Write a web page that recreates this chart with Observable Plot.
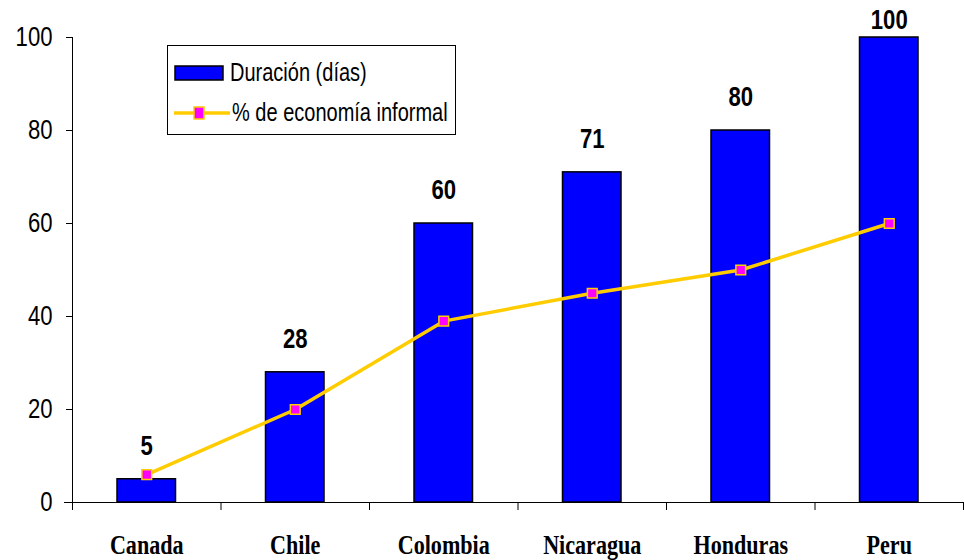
<!DOCTYPE html>
<html>
<head>
<meta charset="utf-8">
<script src="https://cdn.jsdelivr.net/npm/d3@7"></script>
<script src="https://cdn.jsdelivr.net/npm/@observablehq/plot@0.6"></script>
<style>
  html, body { margin: 0; padding: 0; background: #fff; }
  #wrap { position: relative; width: 964px; height: 560px; }
  #legend { position: absolute; left: 167px; top: 45px; width: 287px; height: 88px;
    border: 1px solid #000; background: #fff; font-family: "Liberation Sans", Arial, sans-serif;
    font-size: 25px; color: #000; }
  #legend .row { position: absolute; left: 6px; display: flex; align-items: center; }
  #legend .row span { margin-left: 6px; white-space: nowrap; display: inline-block;
    transform: scaleX(0.8); transform-origin: left center; }
</style>
</head>
<body>
<div id="wrap"></div>
<script>
const countries = ["Canada", "Chile", "Colombia", "Nicaragua", "Honduras", "Peru"];
const duration = [5, 28, 60, 71, 80, 100];
const informal = [6, 20, 39, 45, 50, 60];
const yTicks = [0, 20, 40, 60, 80, 100];
const seriesNames = ["Duración (días)", "% de economía informal"];

const data = countries.map((c, i) => ({country: c, i, duration: duration[i], informal: informal[i]}));
const bounds = d3.range(countries.length + 1);
const mids = countries.map((c, i) => i + 0.5);

const blue = "#0000FF", yellow = "#FFCC00", magenta = "#FF00FF";
const sans = "'Liberation Sans', Arial, sans-serif";

const chart = Plot.plot({
  width: 964,
  height: 560,
  marginLeft: 72,
  marginRight: 1,
  marginTop: 37,
  marginBottom: 58,
  style: {background: "#fff", color: "#000", fontFamily: sans},
  x: {domain: [0, countries.length], label: null},
  y: {domain: [0, 100], label: null},
  marks: [
    Plot.rectY(data, {x1: "i", x2: d => d.i + 1, y: "duration", insetLeft: 45, insetRight: 45,
      fill: blue, stroke: "#000", strokeWidth: 1.5}),
    Plot.ruleY([0], {stroke: "#000", strokeWidth: 1, insetLeft: -8}),
    Plot.ruleX([0], {stroke: "#000", strokeWidth: 1}),
    Plot.axisY({ticks: yTicks, tickSize: 6, tickPadding: 14, fontSize: 28, label: null,
      fontFamily: sans, tickFormat: d => String(d)}),
    Plot.axisX({ticks: bounds, tickSize: 8, tickFormat: () => "", label: null}),
    Plot.axisX({ticks: mids, tickSize: 0, tickPadding: 32, label: null,
      tickFormat: d => countries[Math.floor(d)], fontSize: 28, fontWeight: "bold",
      fontFamily: "'Liberation Serif', 'Times New Roman', serif"}),
    Plot.line(data, {x: d => d.i + 0.5, y: "informal", stroke: yellow, strokeWidth: 3.5}),
    Plot.dot(data, {x: d => d.i + 0.5, y: "informal", symbol: "square", r: 5.5,
      fill: magenta, stroke: yellow, strokeWidth: 1.5}),
    Plot.text(data.filter(d => d.duration < 100), {x: d => d.i + 0.5, y: "duration", text: d => String(d.duration),
      dy: -33, fontSize: 28, fontWeight: "bold", fontFamily: sans}),
    Plot.text(data.filter(d => d.duration >= 100), {x: d => d.i + 0.5, y: "duration", text: d => String(d.duration),
      dy: -17, fontSize: 28, fontWeight: "bold", fontFamily: sans})
  ]
});

// The reference's lettering is horizontally condensed: squeeze every text element around its anchor.
d3.select(chart).selectAll("text").each(function() {
  const t = this.getAttribute("transform") || "";
  this.setAttribute("transform", (t + " scale(0.79,1)").trim());
});

const wrap = document.getElementById("wrap");
wrap.appendChild(chart);

const legend = document.createElement("div");
legend.id = "legend";
legend.innerHTML = `
  <div class="row" style="top:12px">
    <svg width="50" height="16"><rect x="1" y="1" width="48" height="14" fill="${blue}" stroke="#000" stroke-width="1.5"/></svg>
    <span>${seriesNames[0]}</span>
  </div>
  <div class="row" style="top:52px">
    <svg width="56" height="16"><line x1="0" y1="8" x2="56" y2="8" stroke="${yellow}" stroke-width="3.5"/>
      <rect x="20" y="2" width="10" height="12" fill="${magenta}" stroke="${yellow}" stroke-width="1.5"/></svg>
    <span style="margin-left:2px">${seriesNames[1]}</span>
  </div>`;
wrap.appendChild(legend);
</script>
</body>
</html>
